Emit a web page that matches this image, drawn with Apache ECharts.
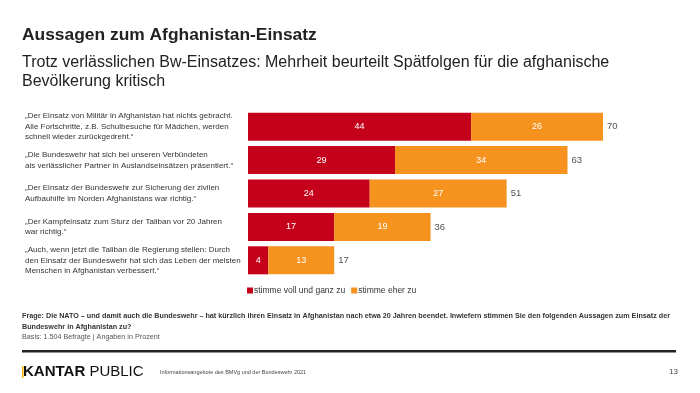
<!DOCTYPE html>
<html><head><meta charset="utf-8">
<script src="https://cdn.jsdelivr.net/npm/echarts@6/dist/echarts.min.js"></script>
<style>html,body{margin:0;padding:0;background:#fff}#c{width:700px;height:393px}</style>
</head><body><div id="c"></div>
<script>
const categories = [
  "„Der Einsatz von Militär in Afghanistan hat nichts gebracht.\nAlle Fortschritte, z.B. Schulbesuche für Mädchen, werden\nschnell wieder zurückgedreht.“",
  "„Die Bundeswehr hat sich bei unseren Verbündeten\nals verlässlicher Partner in Auslandseinsätzen präsentiert.“",
  "„Der Einsatz der Bundeswehr zur Sicherung der zivilen\nAufbauhilfe im Norden Afghanistans war richtig.“",
  "„Der Kampfeinsatz zum Sturz der Taliban vor 20 Jahren\nwar richtig.“",
  "„Auch, wenn jetzt die Taliban die Regierung stellen: Durch\nden Einsatz der Bundeswehr hat sich das Leben der meisten\nMenschen in Afghanistan verbessert.“"
];
const seriesNames = ["stimme voll und ganz zu", "stimme eher zu"];
const voll = [44, 29, 24, 17, 4];
const eher = [26, 34, 27, 19, 13];
const totals = [70, 63, 51, 36, 17];

const FONT = "Liberation Sans, Arial, sans-serif";
const chart = echarts.init(document.getElementById('c'), null, {renderer: 'canvas'});
chart.setOption({
  animation: false,
  textStyle: {fontFamily: FONT},
  grid: {left: 248, right: 97, top: 110, height: 167, containLabel: false},
  xAxis: {type: 'value', min: 0, max: 70, show: false},
  yAxis: {
    type: 'category', data: categories, inverse: true,
    axisLine: {show: false}, axisTick: {show: false}, splitLine: {show: false},
    axisLabel: {align: 'left', margin: 223, fontSize: 8, lineHeight: 10.5, color: '#333', fontFamily: FONT}
  },
  legend: {
    left: 247, top: 286, padding: 0, icon: 'rect', itemWidth: 6, itemHeight: 6, itemGap: 6,
    textStyle: {fontSize: 8.5, color: '#333', fontFamily: FONT, padding: [0,0,0,-4]},
    data: seriesNames
  },
  series: [
    {name: seriesNames[0], type: 'bar', stack: 'a', data: voll, barWidth: 28,
      itemStyle: {color: '#C5001A'},
      label: {show: true, position: 'inside', color: '#fff', fontSize: 9, fontFamily: FONT}},
    {name: seriesNames[1], type: 'bar', stack: 'a', data: eher, barWidth: 28,
      itemStyle: {color: '#F6921E'},
      label: {show: true, position: 'inside', color: '#fff', fontSize: 9, fontFamily: FONT}},
    {name: 'total', type: 'scatter', data: totals, symbolSize: 0, silent: true,
      label: {show: true, position: 'right', distance: 4, color: '#222', fontSize: 9.5, fontFamily: FONT,
        formatter: p => p.value}}
  ],
  graphic: [
    {type: 'text', left: 22, top: 27, style: {text: 'Aussagen zum Afghanistan-Einsatz', font: 'bold 17.4px ' + FONT, fill: '#222'}},
    {type: 'text', left: 22, top: 53, style: {text: 'Trotz verlässlichen Bw-Einsatzes: Mehrheit beurteilt Spätfolgen für die afghanische\nBevölkerung kritisch', font: '16px ' + FONT, fill: '#222', lineHeight: 19}},
    {type: 'text', left: 22, top: 311, style: {text: 'Frage: Die NATO – und damit auch die Bundeswehr – hat kürzlich ihren Einsatz in Afghanistan nach etwa 20 Jahren beendet. Inwiefern stimmen Sie den folgenden Aussagen zum Einsatz der\nBundeswehr in Afghanistan zu?', font: 'bold 7.2px ' + FONT, fill: '#333', lineHeight: 11}},
    {type: 'text', left: 22, top: 334, style: {text: 'Basis: 1.504 Befragte | Angaben in Prozent', font: '7.2px ' + FONT, fill: '#555'}},
    {type: 'rect', shape: {x: 22, y: 350, width: 654, height: 2.5}, style: {fill: '#222'}},
    {type: 'rect', shape: {x: 22, y: 366, width: 1.5, height: 12}, style: {fill: '#F2B400'}},
    {type: 'text', left: 23, top: 364, style: {text: '{b|KANTAR}{r| PUBLIC}', rich: {b: {font: 'bold 15px ' + FONT, fill: '#111'}, r: {font: '15px ' + FONT, fill: '#111'}}}},
    {type: 'text', left: 160, top: 369, style: {text: 'Informationsangebote des BMVg und der Bundeswehr 2021', font: '5.5px ' + FONT, fill: '#444'}},
    {type: 'text', right: 22, top: 368, style: {text: '13', font: '8px ' + FONT, fill: '#444'}}
  ]
});
</script></body></html>
